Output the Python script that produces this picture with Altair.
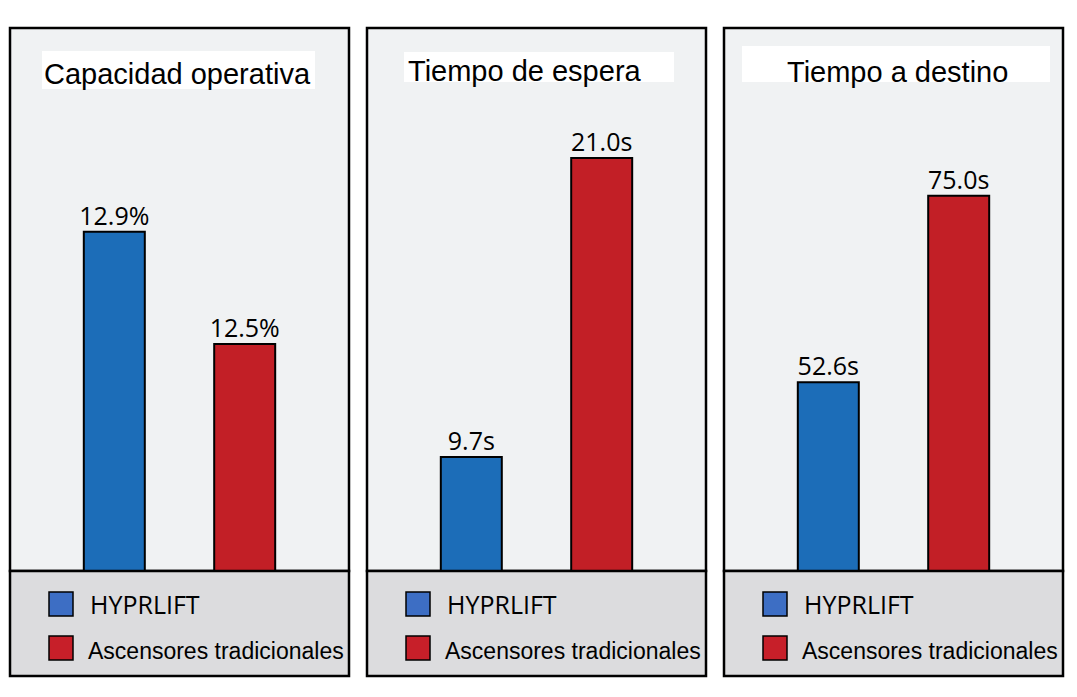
import altair as alt
import pandas as pd

series = ["HYPRLIFT", "Ascensores tradicionales"]
titles = ["Capacidad operativa", "Tiempo de espera", "Tiempo a destino"]
cap_values = [12.9, 12.5]
wait_values = [9.7, 21.0]
dest_values = [52.6, 75.0]
cap_labels = ["12.9%", "12.5%"]
wait_labels = ["9.7s", "21.0s"]
dest_labels = ["52.6s", "75.0s"]

bar_colors = ["#1c6db8", "#c21f26"]
swatch_colors = ["#3d6ec4", "#c71f29"]

W = 339
H_TOP = 543
H_BOT = 105

TITLE_FONT = "Liberation Sans, Arial, sans-serif"
LABEL_FONT = "Open Sans, Noto Sans, sans-serif"


def panel(title, values, labels, domain, box, text_pos):
    df = pd.DataFrame({"series": series, "value": values, "label": labels})
    x = alt.X("series:N", sort=series,
              scale=alt.Scale(type="point", domain=series, padding=0.8), axis=None)
    y = alt.Y("value:Q", scale=alt.Scale(domain=domain, zero=False, nice=False), axis=None)
    base = alt.Chart(df)
    bars = base.mark_bar(size=61, stroke="black", strokeWidth=2, clip=True).encode(
        x=x, y=y, y2=alt.datum(domain[0]),
        color=alt.Color("series:N", scale=alt.Scale(domain=series, range=bar_colors), legend=None),
    )
    vals = base.mark_text(font=LABEL_FONT, fontSize=25, baseline="alphabetic", dy=-7,
                          color="black").encode(x=x, y=y, text="label:N")
    tdf = pd.DataFrame({"t": [title]})
    tbox = alt.Chart(tdf).mark_rect(color="white").encode(
        x=alt.value(box[0]), x2=alt.value(box[1]), y=alt.value(box[2]), y2=alt.value(box[3]))
    ttext = alt.Chart(tdf).mark_text(font=TITLE_FONT, fontSize=29, align="left",
                                     baseline="alphabetic", color="black").encode(
        x=alt.value(text_pos[0]), y=alt.value(text_pos[1]), text="t:N")
    top = alt.layer(tbox, ttext, bars, vals).properties(
        width=W, height=H_TOP,
        view=alt.ViewBackground(fill="#f0f2f3", stroke="black", strokeWidth=2.5))

    ldf = pd.DataFrame({"series": series})
    ly = alt.Y("series:N", sort=series,
               scale=alt.Scale(type="point", domain=series, range=[33, 77], padding=0),
               axis=None)
    sw = alt.Chart(ldf).mark_square(size=576, filled=True, opacity=1, stroke="black",
                                    strokeWidth=1.5).encode(
        x=alt.value(51), y=ly,
        color=alt.Color("series:N", scale=alt.Scale(domain=series, range=swatch_colors), legend=None))
    t1 = alt.Chart(ldf).transform_filter(alt.datum.series == series[0]).mark_text(
        font=LABEL_FONT, fontSize=25, align="left", baseline="middle", dy=2, color="black").encode(
        x=alt.value(80), y=ly, text="series:N")
    t2 = alt.Chart(ldf).transform_filter(alt.datum.series == series[1]).mark_text(
        font=TITLE_FONT, fontSize=23, align="left", baseline="middle", dy=4, color="black").encode(
        x=alt.value(78), y=ly, text="series:N")
    bottom = alt.layer(sw, t1, t2).properties(
        width=W, height=H_BOT,
        view=alt.ViewBackground(fill="#dcdcde", stroke="black", strokeWidth=2.5))
    return alt.vconcat(top, bottom, spacing=0, bounds="flush").resolve_scale(
        x="independent", y="independent", color="independent")


p1 = panel(titles[0], cap_values, cap_labels, [11.689, 13.628], (32, 305, 23, 61), (34, 56))
p2 = panel(titles[1], wait_values, wait_labels, [5.392, 25.91], (37, 307, 24, 54), (41, 53))
p3 = panel(titles[2], dest_values, dest_labels, [29.95, 95.14], (18, 326, 18, 54), (63, 54))

chart = alt.hconcat(p1, p2, p3, spacing=14).resolve_scale(
    x="independent", y="independent", color="independent").properties(
    padding={"left": 0, "top": 18, "right": 0, "bottom": 0}, background="white")

chart.save("out.html", embed_options={"renderer": "svg", "actions": False})
